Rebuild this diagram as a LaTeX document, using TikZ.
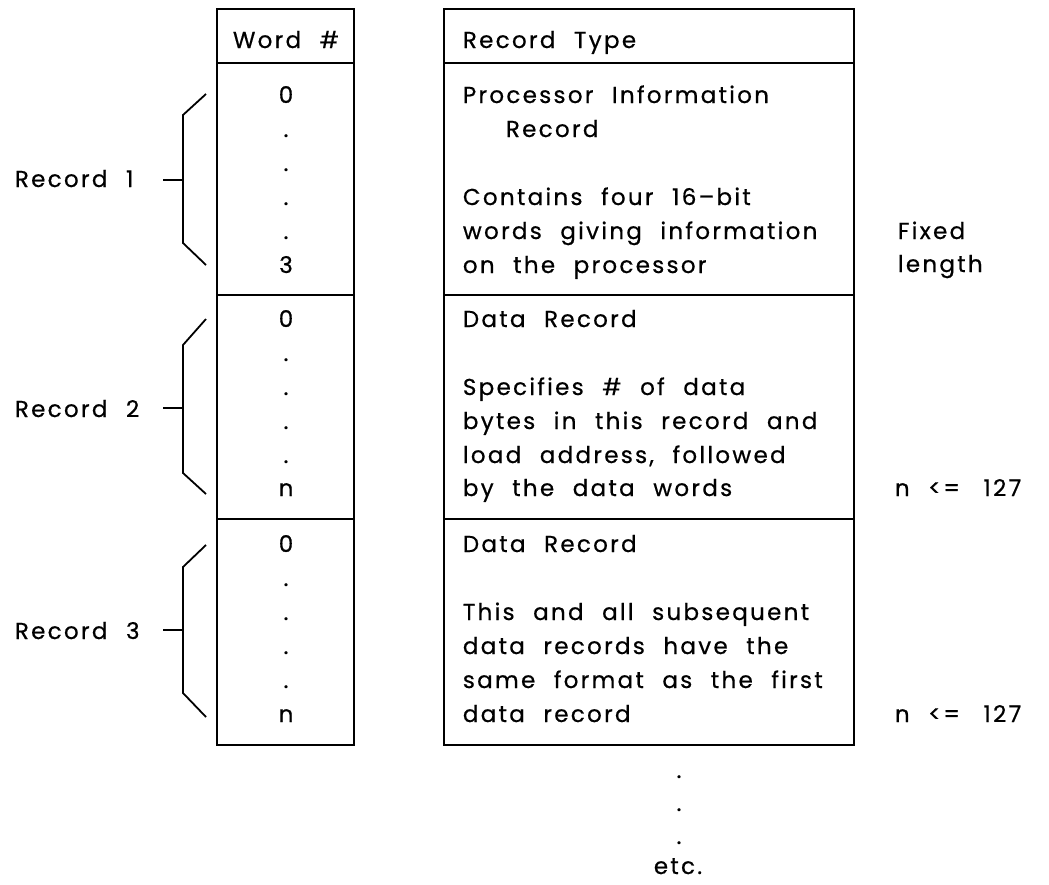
\documentclass[tikz,border=0pt]{standalone}
\usepackage{fontspec}
\newfontfamily\pf{Poppins}[WordSpace=2.2,LetterSpace=10,FakeBold=0.6]
\begin{document}
\begin{tikzpicture}[x=1pt,y=-1pt,line width=1.8pt,
  tf/.style={inner sep=0pt,font=\pf\fontsize{23}{26}\selectfont},
  lt/.style={tf,anchor=base west},
  ct/.style={tf,anchor=base},
  cell/.style={draw,line width=1.8pt,inner sep=0pt},
  wcell/.style={cell,minimum width=137pt},
  rcell/.style={cell,minimum width=410pt},
  brk/.style={line width=1.8pt,line join=miter}]
\useasboundingbox (0,0) rectangle (1049,884);
% word column cells
\node[wcell,minimum height=54pt]  (wh) at (285.5,36) {};
\node[wcell,minimum height=232pt] (w1) at (285.5,179) {};
\node[wcell,minimum height=224pt] (w2) at (285.5,407) {};
\node[wcell,minimum height=226pt] (w3) at (285.5,632) {};
% record type column cells
\node[rcell,minimum height=54pt]  (rh) at (649,36) {};
\node[rcell,minimum height=232pt] (r1) at (649,179) {};
\node[rcell,minimum height=224pt] (r2) at (649,407) {};
\node[rcell,minimum height=226pt] (r3) at (649,632) {};
% headers
\node[ct] (whead) at (286,48) {Word \#};
\node[lt] (rhead) at (462,48) {Record Type};
% word numbers
\node[ct] (a0) at (286,103) {0};
\node[ct] (a1) at (286,137) {.};
\node[ct] (a2) at (286,171) {.};
\node[ct] (a3) at (286,205) {.};
\node[ct] (a4) at (286,239) {.};
\node[ct] (a5) at (286,273) {3};
\node[ct] (b0) at (286,327) {0};
\node[ct] (b1) at (286,361) {.};
\node[ct] (b2) at (286,395) {.};
\node[ct] (b3) at (286,429) {.};
\node[ct] (b4) at (286,463) {.};
\node[ct] (b5) at (286,496) {n};
\node[ct] (c0) at (286,552) {0};
\node[ct] (c1) at (286,586) {.};
\node[ct] (c2) at (286,620) {.};
\node[ct] (c3) at (286,654) {.};
\node[ct] (c4) at (286,688) {.};
\node[ct] (c5) at (286,722) {n};
% record descriptions
\node[lt] (p1) at (462,103) {Processor Information};
\node[lt] (p2) at (505,137) {Record};
\node[lt] (p3) at (462,205) {Contains four 16–bit};
\node[lt] (p4) at (462,239) {words giving information};
\node[lt] (p5) at (462,273) {on the processor};
\node[lt] (d1) at (462,327) {Data Record};
\node[lt] (d2) at (462,395) {Specifies \# of data};
\node[lt] (d3) at (462,429) {bytes in this record and};
\node[lt] (d4) at (462,463) {load address, followed};
\node[lt] (d5) at (462,496) {by the data words};
\node[lt] (e1) at (462,552) {Data Record};
\node[lt] (e2) at (462,620) {This and all subsequent};
\node[lt] (e3) at (462,654) {data records have the};
\node[lt] (e4) at (462,688) {same format as the first};
\node[lt] (e5) at (462,722) {data record};
% right notes
\node[lt] (fx1) at (897,239) {Fixed};
\node[lt] (fx2) at (897,272) {length};
\node[lt] (n1) at (894,496) {n <=\hspace{5pt} 127};
\node[lt] (n2) at (894,722) {n <=\hspace{5pt} 127};
% continuation
\node[ct] (k1) at (679,778) {.};
\node[ct] (k2) at (679,811) {.};
\node[ct] (k3) at (679,844) {.};
\node[ct] (etc) at (678,874) {etc.};
% record labels and brackets
\node[lt] (L1) at (14,187) {Record 1};
\node[lt] (L2) at (14,417) {Record 2};
\node[lt] (L3) at (14,639) {Record 3};
\coordinate (t1) at (206,94);  \coordinate (u1) at (183,115);
\coordinate (v1) at (183,243); \coordinate (s1) at (206,265);
\coordinate (m1) at (183,180); \coordinate (h1) at (163,180);
\coordinate (t2) at (206,319); \coordinate (u2) at (183,345);
\coordinate (v2) at (183,473); \coordinate (s2) at (206,494);
\coordinate (m2) at (183,408); \coordinate (h2) at (163,408);
\coordinate (t3) at (206,545); \coordinate (u3) at (183,567);
\coordinate (v3) at (183,693); \coordinate (s3) at (206,717);
\coordinate (m3) at (183,630); \coordinate (h3) at (163,630);
\draw[brk] (t1) -- (u1) -- (v1) -- (s1);
\draw[brk] (h1) -- (m1);
\draw[brk] (t2) -- (u2) -- (v2) -- (s2);
\draw[brk] (h2) -- (m2);
\draw[brk] (t3) -- (u3) -- (v3) -- (s3);
\draw[brk] (h3) -- (m3);
\end{tikzpicture}
\end{document}
